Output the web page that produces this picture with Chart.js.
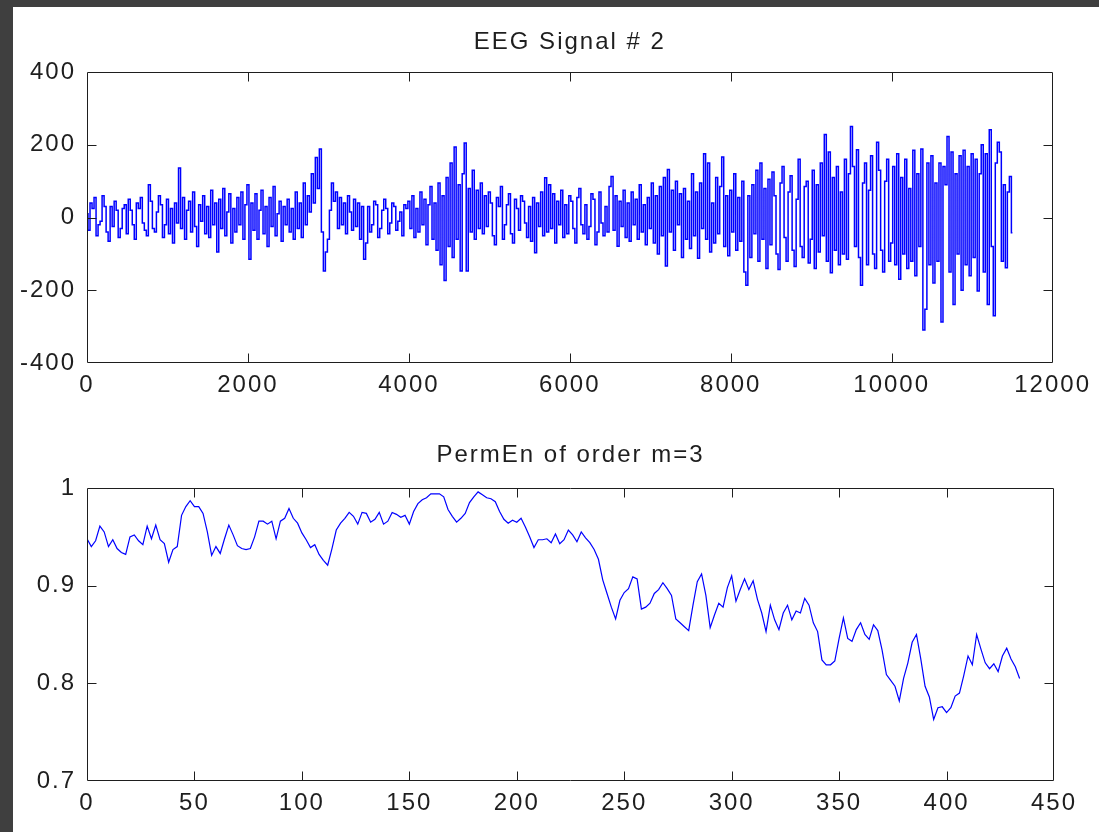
<!DOCTYPE html>
<html>
<head>
<meta charset="utf-8">
<script src="https://cdn.jsdelivr.net/npm/chart.js@4/dist/chart.umd.min.js"></script>
<style>
  html, body { margin: 0; padding: 0; }
  body { width: 1099px; height: 832px; background: #3f3f3f; position: relative; overflow: hidden; }
  #sheet { position: absolute; left: 13px; top: 7px; right: 0; bottom: 0; background: #fff; }
  .plot { position: absolute; left: 0; }
</style>
</head>
<body>
<div id="sheet"></div>
<div class="plot" style="top:0;width:1099px;height:420px"><canvas id="eegChart"></canvas></div>
<div class="plot" style="top:420px;width:1099px;height:412px"><canvas id="permChart"></canvas></div>
<script>
// EEG signal #2, one value read every 25 samples
const eegStep = 25;
const eegSignal = [
  10, -35, 40, 25, 55, -50, -20, -10, 60, 30, -40, -65, 30, -25, 45, 20, -55, -30, 25, 35,
  -45, 50, 20, -20, -60, 40, 25, 55, -15, -35, -50, 90, 45, -30, -40, 15, 60, 35, -55, -20,
  50, -45, 25, -70, 40, -15, 136, -30, 55, -60, 20, 45, -40, 70, -25, -80, 35, -10, 60, -45,
  30, -55, 75, -20, 40, -95, 50, -30, 80, -50, 15, 65, -70, 25, -40, 55, -20, 70, -60, 35,
  90, -115, 40, -35, 65, -60, 20, 75, -45, 30, -80, 55, -25, 85, -50, 10, 45, -65, 30, -20,
  50, -40, 25, -60, 70, -30, 40, -55, 95, -20, 60, 15, 120, 40, 165, 80, 188, -40, -147, -95,
  -60, 20, 95, 45, 70, -30, 55, -20, 40, -45, 60, 15, -35, 50, -25, 40, -60, 30, -115, -70,
  30, -40, -20, 45, 35, -55, -30, 20, 50, 25, -45, -15, 40, 30, -35, -10, 15, -50, 35, 25,
  45, -30, 60, -55, 25, -40, 70, -20, 50, -75, 35, 85, -60, 40, -90, 95, -130, 60, -173, 110,
  -80, 150, -110, 194, -60, 90, -147, 120, 205, -147, 80, -40, 130, -60, 75, -30, 95, -45, 60, -25,
  70, 40, -50, -75, 55, 30, 85, -60, -20, 35, 65, -45, -70, 50, 25, -35, 60, 45, -15, -55,
  30, -65, 55, -97, 40, -25, 70, -50, 109, -40, 90, -30, 65, -70, 45, -20, 75, -55, 35, -45,
  60, 45, -30, -70, 55, 80, -20, -45, 35, -60, -25, 65, 50, -75, -40, 70, -15, -50, 30, -40,
  85, 113, -35, 60, -79, 45, -25, 75, -55, 40, -65, 70, -20, 50, -60, 90, -40, 35, -75, 55,
  -30, 95, -70, 60, -100, 85, -50, 110, -133, 132, -40, 75, -90, 100, -20, 65, -110, 80, -60, 45,
  -85, 120, -50, 70, -112, 95, -30, 175, -60, 150, -95, 40, -70, 110, -45, 85, 166, -80, 60, -105,
  75, -40, 120, -90, 55, -65, 100, -150, -186, 60, -110, 90, -45, 130, -120, 150, -60, 80, -140, 105,
  -75, 125, 60, -100, -143, 95, 140, -55, -120, 70, 115, -90, -135, 50, 160, -80, -110, 85, 100, -125,
  -60, 130, -140, 90, -95, 150, -50, 228, -120, 180, -152, 110, -90, 140, -130, 70, -100, 160, -115, 120,
  250, 140, -80, 186, -110, -186, 95, 150, -130, 75, 170, -100, -140, 207, 130, -90, -150, 100, 160, -120,
  -70, 140, -130, 175, -170, 110, -100, 160, -140, 80, -120, 185, -160, 120, -80, 188, -309, -252, 150, -130,
  170, -180, 95, -120, 150, -287, 140, 90, 223, -150, 180, -239, 120, -100, 170, -200, 185, -130, 140, -160,
  175, -110, 160, -202, 120, 200, -150, 175, -239, 241, -80, -270, 150, 207, 180, -120, 90, -138, 70, 113,
  -42
];

// PermEn of order m=3, one value read every 2 windows
const permStep = 2;
const permEn = [
  0.948, 0.940, 0.946, 0.961, 0.955, 0.940, 0.947, 0.938, 0.934, 0.932,
  0.950, 0.952, 0.946, 0.942, 0.961, 0.948, 0.962, 0.947, 0.943, 0.924,
  0.937, 0.940, 0.972, 0.981, 0.987, 0.981, 0.981, 0.974, 0.955, 0.931,
  0.940, 0.933, 0.948, 0.962, 0.952, 0.941, 0.938, 0.937, 0.938, 0.950,
  0.966, 0.966, 0.963, 0.966, 0.948, 0.966, 0.969, 0.979, 0.969, 0.964,
  0.954, 0.947, 0.939, 0.942, 0.932, 0.926, 0.921, 0.938, 0.957, 0.964,
  0.969, 0.975, 0.971, 0.963, 0.975, 0.974, 0.965, 0.968, 0.975, 0.963,
  0.966, 0.975, 0.973, 0.970, 0.972, 0.963, 0.976, 0.984, 0.988, 0.990,
  0.994, 0.994, 0.994, 0.991, 0.978, 0.971, 0.965, 0.969, 0.974, 0.985,
  0.991, 0.996, 0.993, 0.990, 0.989, 0.986, 0.976, 0.968, 0.964, 0.967,
  0.965, 0.969, 0.960, 0.950, 0.939, 0.947, 0.947, 0.948, 0.944, 0.953,
  0.943, 0.947, 0.957, 0.952, 0.945, 0.955, 0.949, 0.944, 0.937, 0.927,
  0.906, 0.892, 0.878, 0.866, 0.885, 0.893, 0.897, 0.909, 0.907, 0.876,
  0.878, 0.882, 0.892, 0.896, 0.903, 0.897, 0.890, 0.866, 0.862, 0.858,
  0.854, 0.880, 0.904, 0.912, 0.890, 0.857, 0.870, 0.882, 0.878, 0.898,
  0.910, 0.884, 0.896, 0.907, 0.896, 0.905, 0.886, 0.872, 0.853, 0.880,
  0.865, 0.855, 0.872, 0.880, 0.865, 0.874, 0.872, 0.887, 0.880, 0.862,
  0.853, 0.824, 0.819, 0.819, 0.823, 0.846, 0.867, 0.846, 0.843, 0.855,
  0.862, 0.850, 0.845, 0.860, 0.854, 0.834, 0.809, 0.803, 0.797, 0.782,
  0.805, 0.821, 0.842, 0.850, 0.825, 0.797, 0.786, 0.763, 0.775, 0.776,
  0.770, 0.775, 0.787, 0.790, 0.808, 0.828, 0.819, 0.850, 0.835, 0.821,
  0.815, 0.820, 0.812, 0.828, 0.836, 0.825, 0.817, 0.805
];

const eegXTicks = [0, 2000, 4000, 6000, 8000, 10000, 12000];
const eegYTicks = [-400, -200, 0, 200, 400];
const permXTicks = [0, 50, 100, 150, 200, 250, 300, 350, 400, 450];
const permYTicks = [0.7, 0.8, 0.9, 1];

const FONT = "'Liberation Sans', Arial, sans-serif";
const INK = '#1e1e1e';

// MATLAB-like spacing of glyphs
const spacing = {
  id: 'spacing',
  beforeLayout(chart) { chart.ctx.letterSpacing = '2px'; },
  beforeDraw(chart) { chart.ctx.letterSpacing = '2px'; }
};

// box round the axes with ticks pointing inward on all four sides
const boxTicks = {
  id: 'boxTicks',
  afterDraw(chart) {
    const { ctx, chartArea: a, scales } = chart;
    const len = 9;
    const l = Math.round(a.left) + 0.5, r = Math.round(a.right) - 0.5;
    const t = Math.round(a.top) + 0.5, b = Math.round(a.bottom) - 0.5;
    ctx.save();
    ctx.strokeStyle = INK;
    ctx.lineWidth = 1;
    ctx.beginPath();
    ctx.rect(l, t, r - l, b - t);
    scales.x.ticks.forEach(tk => {
      const px = Math.round(scales.x.getPixelForValue(tk.value)) + 0.5;
      if (px <= l + 1 || px >= r - 1) return;
      ctx.moveTo(px, b); ctx.lineTo(px, b - len);
      ctx.moveTo(px, t); ctx.lineTo(px, t + len);
    });
    scales.y.ticks.forEach(tk => {
      const py = Math.round(scales.y.getPixelForValue(tk.value)) + 0.5;
      if (py <= t + 1 || py >= b - 1) return;
      ctx.moveTo(l, py); ctx.lineTo(l + len, py);
      ctx.moveTo(r, py); ctx.lineTo(r - len, py);
    });
    ctx.stroke();
    ctx.restore();
  }
};

function makeChart(id, cfg) {
  const fixTicks = arr => scale => { scale.ticks = arr.map(v => ({ value: v })); };
  const plain = v => String(v);
  return new Chart(document.getElementById(id), {
    type: 'line',
    data: {
      datasets: [{
        data: cfg.values.map((v, k) => ({ x: k * cfg.step, y: v })),
        borderColor: '#0000ff',
        borderWidth: cfg.lineWidth,
        stepped: cfg.stepped,
        pointRadius: 0,
        tension: 0,
        fill: false
      }]
    },
    options: {
      responsive: true,
      maintainAspectRatio: false,
      animation: false,
      events: [],
      layout: { padding: { left: 0, right: 45, top: 0, bottom: 0 } },
      plugins: {
        legend: { display: false },
        tooltip: { enabled: false },
        title: {
          display: true,
          fullSize: false,
          text: cfg.title,
          color: INK,
          font: { family: FONT, size: 24, weight: 'normal' },
          padding: cfg.titlePad
        }
      },
      scales: {
        x: {
          type: 'linear',
          min: cfg.xTicks[0],
          max: cfg.xTicks[cfg.xTicks.length - 1],
          afterBuildTicks: fixTicks(cfg.xTicks),
          afterFit: s => { s.height = cfg.xHeight; },
          grid: { display: false, drawTicks: false },
          border: { display: false },
          ticks: {
            autoSkip: false, maxRotation: 0, minRotation: 0,
            padding: 8, color: INK, callback: plain,
            font: { family: FONT, size: 24 }
          }
        },
        y: {
          type: 'linear',
          min: cfg.yTicks[0],
          max: cfg.yTicks[cfg.yTicks.length - 1],
          afterBuildTicks: fixTicks(cfg.yTicks),
          afterFit: s => { s.width = 87; },
          grid: { display: false, drawTicks: false },
          border: { display: false },
          ticks: {
            autoSkip: false, padding: 11, color: INK, callback: plain,
            font: { family: FONT, size: 24 }
          }
        }
      }
    },
    plugins: [spacing, boxTicks]
  });
}

makeChart('eegChart', {
  title: 'EEG Signal # 2',
  values: eegSignal,
  step: eegStep,
  lineWidth: 1.5,
  stepped: 'middle',
  xTicks: eegXTicks,
  yTicks: eegYTicks,
  xHeight: 57,
  titlePad: { top: 28, bottom: 15.2 }
});

makeChart('permChart', {
  title: 'PermEn of order m=3',
  values: permEn,
  step: permStep,
  lineWidth: 1.2,
  stepped: false,
  xTicks: permXTicks,
  yTicks: permYTicks,
  xHeight: 51,
  titlePad: { top: 21, bottom: 18.2 }
});
</script>
</body>
</html>
